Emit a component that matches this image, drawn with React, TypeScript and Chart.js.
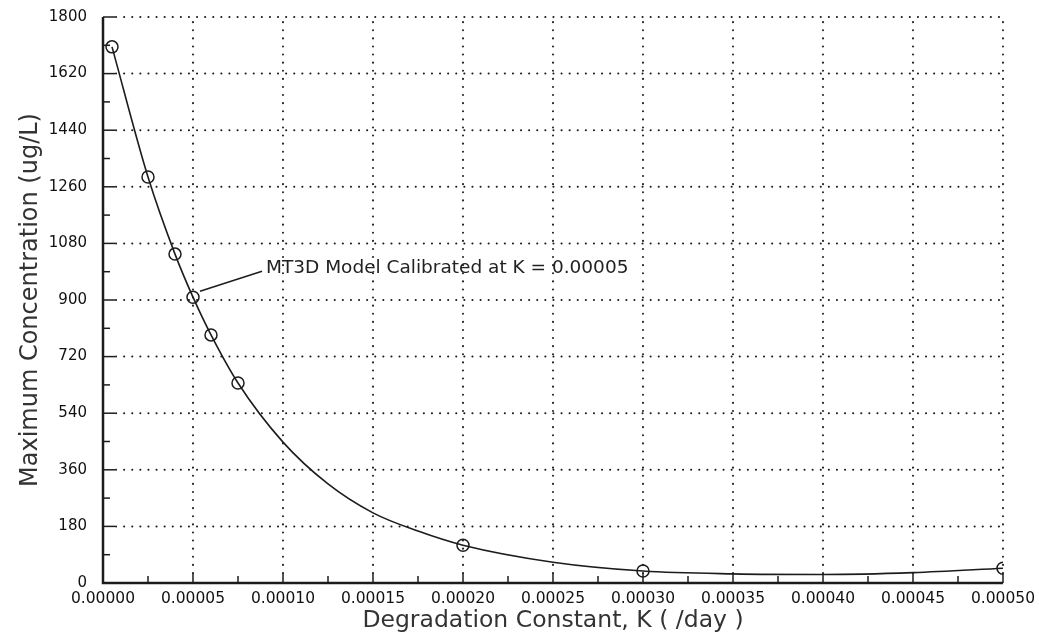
import React, { useEffect, useRef } from "react";
import { Chart, registerables } from "chart.js";

Chart.register(...registerables);

// Simulated maximum concentrations for each degradation constant
const sampleK = [0.000005, 0.000025, 0.00004, 0.00005, 0.00006, 0.000075, 0.0002, 0.0003, 0.0005];
const sampleConc = [1705, 1291, 1046, 909, 789, 636, 120, 38, 47];

// Smooth fitted curve through the simulations
const fitK = [
  0.000005, 0.000025, 0.00004, 0.00005, 0.00006, 0.000075, 0.0001, 0.000125, 0.00015,
  0.000175, 0.0002, 0.00025, 0.0003, 0.00035, 0.0004, 0.00045, 0.0005,
];
const fitConc = [1705, 1291, 1046, 909, 789, 636, 448, 315, 223, 165, 120, 66, 38, 29, 27, 33, 47];

const xTicks = [0, 0.00005, 0.0001, 0.00015, 0.0002, 0.00025, 0.0003, 0.00035, 0.0004, 0.00045, 0.0005];
const xMinorTicks = [0.000025, 0.000075, 0.000125, 0.000175, 0.000225, 0.000275, 0.000325, 0.000375, 0.000425, 0.000475];
const yTicks = [0, 180, 360, 540, 720, 900, 1080, 1260, 1440, 1620, 1800];
const yMinorTicks = [90, 270, 450, 630, 810, 990, 1170, 1350, 1530, 1710];

const calibratedK = 0.00005;
const calibratedConc = 909;
const calibrationNote = "MT3D Model Calibrated at K = 0.00005";

const INK = "#1c1c1c";
const FONT = "'DejaVu Sans', sans-serif";

const frame = {
  id: "frame",
  beforeDatasetsDraw(chart: any) {
    const { ctx, chartArea: a, scales } = chart;
    const x = scales.x;
    const y = scales.y;
    ctx.save();
    // dotted grid
    ctx.strokeStyle = INK;
    ctx.lineWidth = 2;
    ctx.lineCap = "round";
    ctx.setLineDash([0.1, 8]);
    for (const v of xTicks) {
      if (v === 0) continue;
      const px = x.getPixelForValue(v);
      ctx.beginPath();
      ctx.moveTo(px, a.bottom - 10);
      ctx.lineTo(px, a.top);
      ctx.stroke();
    }
    for (const v of yTicks) {
      if (v === 0) continue;
      const py = y.getPixelForValue(v);
      ctx.beginPath();
      ctx.moveTo(a.left + 13, py);
      ctx.lineTo(a.right, py);
      ctx.stroke();
    }
    ctx.setLineDash([]);
    ctx.lineCap = "butt";
    // inner tick marks
    ctx.lineWidth = 1.5;
    for (const v of xTicks) {
      const px = x.getPixelForValue(v);
      ctx.beginPath();
      ctx.moveTo(px, a.bottom);
      ctx.lineTo(px, a.bottom - 10);
      ctx.stroke();
    }
    for (const v of xMinorTicks) {
      const px = x.getPixelForValue(v);
      ctx.beginPath();
      ctx.moveTo(px, a.bottom);
      ctx.lineTo(px, a.bottom - 7);
      ctx.stroke();
    }
    for (const v of yTicks) {
      const py = y.getPixelForValue(v);
      ctx.beginPath();
      ctx.moveTo(a.left, py);
      ctx.lineTo(a.left + 12, py);
      ctx.stroke();
    }
    for (const v of yMinorTicks) {
      const py = y.getPixelForValue(v);
      ctx.beginPath();
      ctx.moveTo(a.left, py);
      ctx.lineTo(a.left + 7, py);
      ctx.stroke();
    }
    // axes
    ctx.lineWidth = 2.5;
    ctx.beginPath();
    ctx.moveTo(a.left, a.top);
    ctx.lineTo(a.left, a.bottom);
    ctx.lineTo(a.right, a.bottom);
    ctx.stroke();
    ctx.restore();
  },
  afterDatasetsDraw(chart: any) {
    const { ctx, scales } = chart;
    const px = scales.x.getPixelForValue(calibratedK);
    const py = scales.y.getPixelForValue(calibratedConc);
    ctx.save();
    ctx.strokeStyle = INK;
    ctx.lineWidth = 1.5;
    ctx.beginPath();
    ctx.moveTo(px + 7, py - 6);
    ctx.lineTo(px + 69, py - 26);
    ctx.stroke();
    ctx.fillStyle = "#222";
    ctx.font = `18.5px ${FONT}`;
    ctx.textAlign = "left";
    ctx.textBaseline = "middle";
    ctx.fillText(calibrationNote, px + 73, py - 29);
    ctx.restore();
  },
};

export default function App() {
  const canvasRef = useRef<HTMLCanvasElement | null>(null);

  useEffect(() => {
    const canvas = canvasRef.current;
    if (!canvas) return;
    const chart = new Chart(canvas, {
      type: "scatter",
      data: {
        datasets: [
          {
            type: "line",
            label: "Fit",
            data: fitK.map((k, i) => ({ x: k, y: fitConc[i] })),
            borderColor: INK,
            borderWidth: 1.6,
            pointRadius: 0,
            fill: false,
            cubicInterpolationMode: "monotone",
          },
          {
            type: "scatter",
            label: "Simulations",
            data: sampleK.map((k, i) => ({ x: k, y: sampleConc[i] })),
            borderColor: INK,
            backgroundColor: "rgba(0,0,0,0)",
            borderWidth: 1.5,
            pointRadius: 6,
            pointStyle: "circle",
          },
        ],
      },
      options: {
        animation: false,
        responsive: false,
        layout: { padding: { top: 17, right: 36, left: 0, bottom: 0 } },
        plugins: { legend: { display: false }, tooltip: { enabled: false } },
        scales: {
          x: {
            type: "linear",
            min: 0,
            max: 0.0005,
            afterBuildTicks: (s: any) => {
              s.ticks = xTicks.map((v) => ({ value: v }));
            },
            afterFit: (s: any) => {
              s.height = 56;
              s.paddingLeft = 0;
              s.paddingRight = 0;
            },
            grid: { display: false, drawTicks: false, tickLength: 0 },
            border: { display: false },
            ticks: {
              autoSkip: false,
              maxRotation: 0,
              padding: 7,
              color: "#111",
              font: { family: FONT, size: 15.5 },
              callback: (v: any) => Number(v).toFixed(5),
            },
            title: {
              display: true,
              text: "Degradation Constant, K ( /day )",
              color: "#333",
              font: { family: FONT, size: 23.5 },
              padding: { top: 0, bottom: 4 },
            },
          },
          y: {
            type: "linear",
            min: 0,
            max: 1800,
            afterBuildTicks: (s: any) => {
              s.ticks = yTicks.map((v) => ({ value: v }));
            },
            afterFit: (s: any) => {
              s.width = 103;
              s.paddingTop = 0;
              s.paddingBottom = 0;
            },
            grid: { display: false, drawTicks: false, tickLength: 0 },
            border: { display: false },
            ticks: {
              autoSkip: false,
              padding: 16,
              color: "#111",
              font: { family: FONT, size: 15 },
              callback: (v: any) => String(v),
            },
            title: {
              display: true,
              text: "Maximum Concentration (ug/L)",
              color: "#333",
              font: { family: FONT, size: 24 },
              padding: { top: 16, bottom: 0 },
            },
          },
        },
      },
      plugins: [frame],
    });
    return () => chart.destroy();
  }, []);

  return (
    <div style={{ position: "fixed", left: 0, top: 0, width: 1039, height: 639, background: "#fff" }}>
      <canvas ref={canvasRef} width={1039} height={639} style={{ display: "block" }} />
    </div>
  );
}
